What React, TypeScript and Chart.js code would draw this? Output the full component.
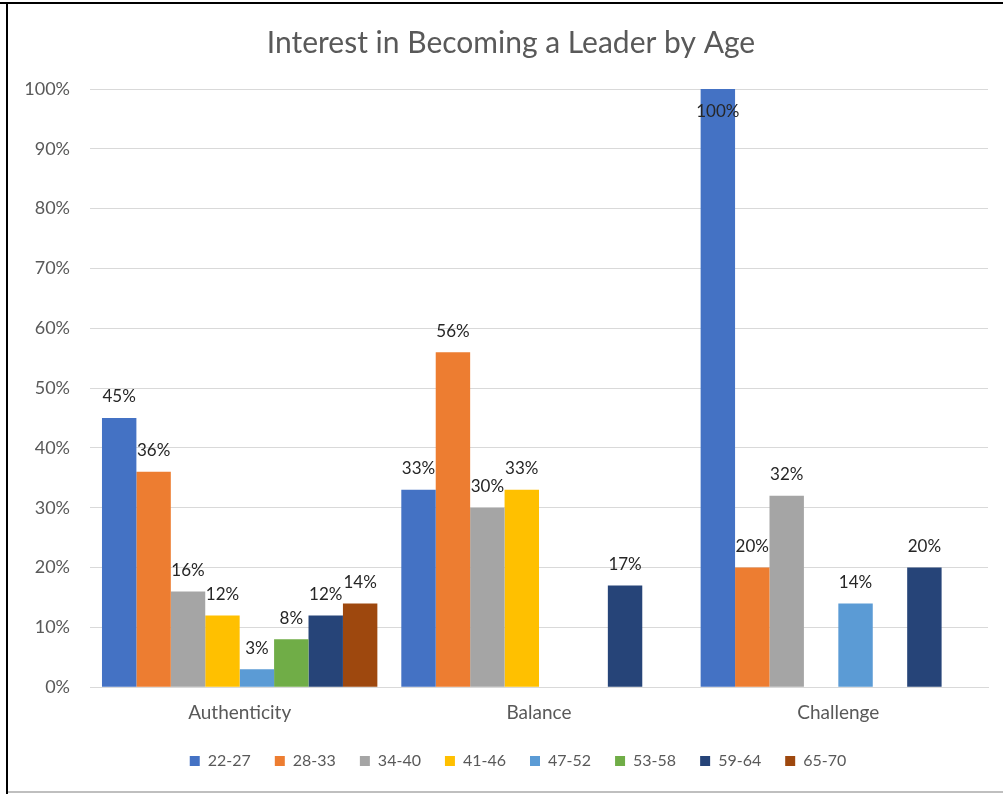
import React, { useEffect, useRef } from "react";
import { Chart, registerables } from "chart.js";

Chart.register(...registerables);

const title = "Interest in Becoming a Leader by Age";
const categories = ["Authenticity", "Balance", "Challenge"];
const ageGroups = ["22-27", "28-33", "34-40", "41-46", "47-52", "53-58", "59-64", "65-70"];
const colors = ["#4472C4", "#ED7D31", "#A5A5A5", "#FFC000", "#5B9BD5", "#70AD47", "#264478", "#9E480E"];
const v2227 = [45, 33, 100];
const v2833 = [36, 56, 20];
const v3440 = [16, 30, 32];
const v4146 = [12, 33, null];
const v4752 = [3, null, 14];
const v5358 = [8, null, null];
const v5964 = [12, 17, 20];
const v6570 = [14, null, null];
const seriesValues = [v2227, v2833, v3440, v4146, v4752, v5358, v5964, v6570];
const yTicks = [0, 10, 20, 30, 40, 50, 60, 70, 80, 90, 100];

const FONT = "Lato, 'Open Sans', sans-serif";

const labelPlugin = {
  id: "barLabels",
  afterDatasetsDraw(chart: any) {
    const ctx = chart.ctx;
    const area = chart.chartArea;
    ctx.save();
    ctx.font = `17px ${FONT}`;
    ctx.fillStyle = "#262626";
    ctx.textAlign = "center";
    ctx.textBaseline = "middle";
    chart.data.datasets.forEach((ds: any, di: number) => {
      const meta = chart.getDatasetMeta(di);
      meta.data.forEach((bar: any, i: number) => {
        const v = ds.data[i];
        if (v === null || v === undefined) return;
        let y = bar.y - 21;
        if (y < area.top + 8) y = bar.y + 23;
        ctx.fillText(v + "%", bar.x, y);
      });
    });
    ctx.restore();
  },
};

const shiftPlugin = {
  id: "shiftBoxes",
  afterLayout(chart: any) {
    const lg = chart.legend;
    if (lg) {
      lg.top -= 9;
      lg.bottom -= 9;
      lg.left += 11;
      lg.right += 11;
    }
    const t = chart.titleBlock;
    if (t) {
      t.left += 4;
      t.right += 4;
    }
  },
};

export default function App() {
  const ref = useRef<HTMLCanvasElement | null>(null);
  useEffect(() => {
    if (!ref.current) return;
    const chart = new Chart(ref.current, {
      type: "bar",
      data: {
        labels: categories,
        datasets: ageGroups.map((g, i) => ({
          label: g,
          data: seriesValues[i],
          backgroundColor: colors[i],
          borderWidth: 0,
          categoryPercentage: 0.92,
          barPercentage: 1.0,
        })),
      },
      options: {
        animation: false,
        responsive: true,
        maintainAspectRatio: false,
        layout: { padding: { left: 18, right: 10, top: 21, bottom: 2 } },
        plugins: {
          title: {
            display: true,
            text: title,
            color: "#595959",
            font: { family: FONT, size: 30, weight: "normal" },
            padding: { top: 0, bottom: 28 },
          },
          legend: {
            position: "bottom",
            labels: {
              color: "#595959",
              font: { family: FONT, size: 16 },
              boxWidth: 10,
              boxHeight: 10,
              padding: 24,
            },
          },
          tooltip: { enabled: false },
        },
        scales: {
          x: {
            grid: { display: false, drawTicks: false },
            border: { display: true, color: "#D9D9D9" },
            ticks: { color: "#595959", font: { family: FONT, size: 19 }, padding: 14 },
          },
          y: {
            min: 0,
            max: 100,
            afterBuildTicks: (axis: any) => {
              axis.ticks = yTicks.map((v) => ({ value: v }));
            },
            afterFit: (axis: any) => {
              axis.width = 64;
            },
            grid: { color: "#D9D9D9", drawTicks: false },
            border: { display: false },
            ticks: {
              color: "#595959",
              font: { family: FONT, size: 18 },
              padding: 20,
              callback: (v: any) => v + "%",
            },
          },
        },
      },
      plugins: [labelPlugin, shiftPlugin],
    });
    return () => chart.destroy();
  }, []);

  return (
    <div style={{ position: "fixed", left: 0, top: 0, width: 1003, height: 794, background: "#fff" }}>
      <div style={{ position: "absolute", left: 0, top: 2, width: 1003, height: 2, background: "#000" }} />
      <div style={{ position: "absolute", left: 6, top: 2, width: 2, height: 792, background: "#000" }} />
      <div style={{ position: "absolute", left: 8, top: 791, width: 995, height: 2, background: "#BFBFBF" }} />
      <div style={{ position: "absolute", left: 8, top: 4, width: 990, height: 786 }}>
        <canvas ref={ref} />
      </div>
    </div>
  );
}
